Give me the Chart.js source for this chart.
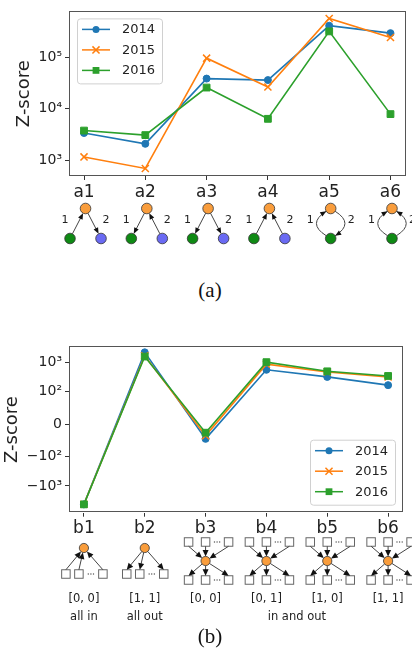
<!DOCTYPE html>
<html lang="en">
<head>
<meta charset="UTF-8">
<title>Z-score of motifs</title>
<script src="https://cdn.jsdelivr.net/npm/chart.js"></script>
<style>
  body { margin: 0; background: #fff; width: 412px; height: 652px; overflow: hidden; position: relative; font-family: "DejaVu Sans", sans-serif; }
  canvas { position: absolute; left: 0; }
  #chartA { top: 0; }
  #chartB { top: 335px; }
  .caption { position: absolute; left: 0; width: 420px; height: 24px; line-height: 24px; text-align: center; font-family: "Liberation Serif", serif; font-size: 21px; color: #111; }
</style>
</head>
<body>

<canvas id="chartA" width="412" height="255"></canvas>
<div class="caption" style="top:278px">(a)</div>
<canvas id="chartB" width="412" height="317"></canvas>
<div class="caption" style="top:624px">(b)</div>

<script>
  // ---- data ----
  const years = ['2014', '2015', '2016'];

  const motifsA = ['a1', 'a2', 'a3', 'a4', 'a5', 'a6'];
  const zA2014 = [3400, 2100, 38500, 36000, 407000, 292000];
  const zA2015 = [1170, 700, 95700, 26400, 561000, 241000];
  const zA2016 = [3790, 3100, 25800, 6400, 316000, 7900];
  const yTicksA = [1e3, 1e4, 1e5];
  const yLabelsA = ['10³', '10⁴', '10⁵'];

  const motifsB = ['b1', 'b2', 'b3', 'b4', 'b5', 'b6'];
  const zB2014 = [-4300, 2260, -45, 570, 325, 170];
  const zB2015 = [-4250, 1720, -35, 890, 480, 325];
  const zB2016 = [-4300, 1620, -26, 1040, 505, 350];
  const yTicksB = [-1000, -100, 0, 100, 1000];
  const yLabelsB = ['−10³', '−10²', '0', '10²', '10³'];
  const degreeB = ['[0, 0]', '[1, 1]', '[0, 0]', '[0, 1]', '[1, 0]', '[1, 1]'];

  // edge directions of the (a) motifs, 'in' = towards the orange node
  const edgesA = [['in', 'out'], ['out', 'in'], ['out', 'out'], ['in', 'in'], ['in', 'out'], ['in', 'in']];
  const kindB = ['in', 'out', 'both', 'both', 'both', 'both'];

  const colors = ['#1f77b4', '#ff7f0e', '#2ca02c'];
  const markers = ['circle', 'crossRot', 'rect'];
  const radii = [3.5, 5, 4.8];

  Chart.defaults.font.family = 'DejaVu Sans';
  Chart.defaults.color = '#222';

  // symmetric log scale like matplotlib's symlog (linthresh 100)
  const LINTHRESH = 100, LINSCALE = 1 / (1 - 0.1);
  function symlog(v) {
    const a = Math.abs(v);
    return a <= LINTHRESH ? v / LINTHRESH * LINSCALE : Math.sign(v) * (LINSCALE + Math.log10(a / LINTHRESH));
  }
  function symexp(t) {
    const a = Math.abs(t);
    return a <= LINSCALE ? t / LINSCALE * LINTHRESH : Math.sign(t) * LINTHRESH * Math.pow(10, a - LINSCALE);
  }
  class SymlogScale extends Chart.LinearScale {
    static id = 'symlog';
    getPixelForValue(value) {
      const lo = symlog(this.min), hi = symlog(this.max);
      return this.getPixelForDecimal((symlog(value) - lo) / (hi - lo));
    }
    getValueForPixel(pixel) {
      const lo = symlog(this.min), hi = symlog(this.max);
      return symexp(lo + this.getDecimalForPixel(pixel) * (hi - lo));
    }
  }
  Chart.register(SymlogScale);

  function makeSets(series) {
    return series.map((vals, k) => ({
      label: years[k],
      data: vals.map((v, i) => ({ x: i, y: v })),
      borderColor: colors[k],
      backgroundColor: colors[k],
      pointBackgroundColor: colors[k],
      pointBorderColor: colors[k],
      pointStyle: markers[k],
      pointRadius: radii[k],
      pointBorderWidth: k === 1 ? 1.5 : 1,
      borderWidth: 1.6,
      tension: 0,
      order: 3 - k
    }));
  }

  const tickGrid = { drawOnChartArea: false, drawTicks: true, tickLength: 4, color: '#333' };

  function xAxis(labels) {
    return {
      type: 'linear', bounds: 'data', min: -0.245, max: 5.245,
      afterBuildTicks: s => { s.ticks = labels.map((_, i) => ({ value: i })); },
      afterFit: s => { s.height = 24; },
      ticks: { callback: v => labels[v], font: { size: 17 }, padding: 2, maxRotation: 0, autoSkip: false },
      grid: tickGrid,
      border: { display: false }
    };
  }

  // ---- small helpers for the frame, legend and motif sketches ----
  function drawFrame(chart) {
    const a = chart.chartArea, ctx = chart.ctx;
    ctx.save();
    ctx.strokeStyle = '#555';
    ctx.lineWidth = 1;
    ctx.strokeRect(Math.round(a.left) + 0.5, Math.round(a.top) + 0.5, Math.round(a.right - a.left) - 1, Math.round(a.bottom - a.top) - 1);
    ctx.restore();
  }

  function marker(ctx, style, x, y, r, color) {
    ctx.fillStyle = color; ctx.strokeStyle = color;
    ctx.beginPath();
    if (style === 'circle') {
      ctx.arc(x, y, r, 0, Math.PI * 2); ctx.fill();
    } else if (style === 'rect') {
      const s = r * Math.SQRT1_2;
      ctx.fillRect(x - s, y - s, 2 * s, 2 * s);
    } else {
      const s = r * Math.SQRT1_2;
      ctx.lineWidth = 1.5;
      ctx.moveTo(x - s, y - s); ctx.lineTo(x + s, y + s);
      ctx.moveTo(x + s, y - s); ctx.lineTo(x - s, y + s);
      ctx.stroke();
    }
  }

  function drawLegend(chart, corner) {
    const ctx = chart.ctx, a = chart.chartArea;
    const w = 85, h = 65;
    const x = corner === 'tl' ? a.left + 8 : a.right - 8 - w;
    const y = corner === 'tl' ? a.top + 7 : a.bottom - 8 - h;
    ctx.save();
    ctx.beginPath();
    ctx.roundRect(x + 0.5, y + 0.5, w, h, 3);
    ctx.fillStyle = 'rgba(255,255,255,0.85)';
    ctx.fill();
    ctx.strokeStyle = '#d0d0d0';
    ctx.lineWidth = 1;
    ctx.stroke();
    chart.data.datasets.forEach((ds, k) => {
      const ry = y + 11 + k * 20.5;
      ctx.beginPath();
      ctx.moveTo(x + 5, ry); ctx.lineTo(x + 33, ry);
      ctx.strokeStyle = ds.borderColor; ctx.lineWidth = 1.5; ctx.stroke();
      marker(ctx, ds.pointStyle, x + 19, ry, ds.pointRadius, ds.borderColor);
      ctx.fillStyle = '#222';
      ctx.font = '13px "DejaVu Sans"';
      ctx.textBaseline = 'middle';
      ctx.textAlign = 'left';
      ctx.fillText(ds.label, x + 45, ry + 0.5);
    });
    ctx.restore();
  }

  const ORANGE = '#f99d3c', GREEN = '#0f8a14', BLUE = '#6a6af3';

  function node(ctx, x, y, r, fill) {
    ctx.beginPath();
    ctx.arc(x, y, r, 0, Math.PI * 2);
    ctx.fillStyle = fill; ctx.fill();
    ctx.lineWidth = 0.8; ctx.strokeStyle = '#333'; ctx.stroke();
  }
  function square(ctx, x, y, s) {
    ctx.fillStyle = '#fff';
    ctx.fillRect(x - s / 2, y - s / 2, s, s);
    ctx.strokeStyle = '#666'; ctx.lineWidth = 1;
    ctx.strokeRect(x - s / 2, y - s / 2, s, s);
  }
  function head(ctx, tx, ty, dx, dy, len, wid) {
    const d = Math.hypot(dx, dy), ux = dx / d, uy = dy / d;
    ctx.beginPath();
    ctx.moveTo(tx, ty);
    ctx.lineTo(tx - ux * len - uy * wid / 2, ty - uy * len + ux * wid / 2);
    ctx.lineTo(tx - ux * len + uy * wid / 2, ty - uy * len - ux * wid / 2);
    ctx.closePath();
    ctx.fillStyle = '#111'; ctx.fill();
  }
  function arrow(ctx, x1, y1, x2, y2, r1, r2, len, wid) {
    const d = Math.hypot(x2 - x1, y2 - y1), ux = (x2 - x1) / d, uy = (y2 - y1) / d;
    const sx = x1 + ux * r1, sy = y1 + uy * r1, ex = x2 - ux * r2, ey = y2 - uy * r2;
    ctx.beginPath();
    ctx.moveTo(sx, sy); ctx.lineTo(ex - ux * len * 0.6, ey - uy * len * 0.6);
    ctx.strokeStyle = '#444'; ctx.lineWidth = 1; ctx.stroke();
    head(ctx, ex, ey, ux, uy, len, wid);
  }
  function curve(ctx, x1, y1, x2, y2, cx, cy, r, len, wid) {
    const d1 = Math.hypot(cx - x1, cy - y1), d2 = Math.hypot(cx - x2, cy - y2);
    const sx = x1 + (cx - x1) / d1 * r, sy = y1 + (cy - y1) / d1 * r;
    const ex = x2 + (cx - x2) / d2 * r, ey = y2 + (cy - y2) / d2 * r;
    ctx.beginPath();
    ctx.moveTo(sx, sy); ctx.quadraticCurveTo(cx, cy, ex, ey);
    ctx.strokeStyle = '#444'; ctx.lineWidth = 1; ctx.stroke();
    head(ctx, ex, ey, ex - cx, ey - cy, len, wid);
  }

  function drawMotifsA(chart) {
    const ctx = chart.ctx, xs = chart.scales.x, base = chart.chartArea.bottom;
    ctx.save();
    motifsA.forEach((m, i) => {
      const ox = xs.getPixelForValue(i) + 1.5, oy = base + 32.5, by = base + 62.5, r = 5.3;
      const [e1, e2] = edgesA[i];
      if (i < 4) {
        const gx = ox - 15.5, bx = ox + 15.5;
        node(ctx, ox, oy, r, ORANGE);
        node(ctx, gx, by, r, GREEN);
        node(ctx, bx, by, r, BLUE);
        if (e1 === 'in') arrow(ctx, gx, by, ox, oy, r, r, 6, 5); else arrow(ctx, ox, oy, gx, by, r, r, 6, 5);
        if (e2 === 'in') arrow(ctx, bx, by, ox, oy, r, r, 6, 5); else arrow(ctx, ox, oy, bx, by, r, r, 6, 5);
      } else {
        const my = (oy + by) / 2;
        node(ctx, ox, oy, r, ORANGE);
        node(ctx, ox, by, r, GREEN);
        if (e1 === 'in') curve(ctx, ox, by, ox, oy, ox - 24, my, r, 6, 5); else curve(ctx, ox, oy, ox, by, ox - 24, my, r, 6, 5);
        if (e2 === 'in') curve(ctx, ox, by, ox, oy, ox + 24, my, r, 6, 5); else curve(ctx, ox, oy, ox, by, ox + 24, my, r, 6, 5);
      }
      ctx.fillStyle = '#222';
      ctx.font = '11px "DejaVu Sans"';
      ctx.textAlign = 'center'; ctx.textBaseline = 'middle';
      ctx.fillText('1', ox - 20.5, oy + 12);
      ctx.fillText('2', ox + 20.5, oy + 12);
    });
    ctx.restore();
  }

  function dots(ctx, x, y) {
    ctx.fillStyle = '#555';
    for (let k = -1; k <= 1; k++) {
      ctx.beginPath(); ctx.arc(x + k * 2.6, y, 0.7, 0, Math.PI * 2); ctx.fill();
    }
  }

  function drawMotifsB(chart) {
    const ctx = chart.ctx, xs = chart.scales.x, base = chart.chartArea.bottom;
    const S = 8.5, R = 4.6;
    ctx.save();
    motifsB.forEach((m, i) => {
      const cx = xs.getPixelForValue(i);
      if (kindB[i] !== 'both') {
        const oy = base + 35.3, sy = base + 61.3;
        const sxs = [cx - 18, cx - 5, cx + 19];
        sxs.forEach(sx => square(ctx, sx, sy, S));
        dots(ctx, (sxs[1] + sxs[2]) / 2, sy);
        node(ctx, cx, oy, R, ORANGE);
        sxs.forEach(sx => {
          if (kindB[i] === 'in') arrow(ctx, sx, sy - S / 2, cx, oy, 0, R, 6.5, 6);
          else arrow(ctx, cx, oy, sx, sy - S / 2, R, 0, 6.5, 6);
        });
      } else {
        const oy = base + 48.3, ty = base + 29.3, dy = base + 67.3;
        const sxs = [cx - 17, cx, cx + 23];
        sxs.forEach(sx => { square(ctx, sx, ty, S); square(ctx, sx, dy, S); });
        dots(ctx, (sxs[1] + sxs[2]) / 2, ty);
        dots(ctx, (sxs[1] + sxs[2]) / 2, dy);
        node(ctx, cx, oy, R, ORANGE);
        sxs.forEach(sx => {
          arrow(ctx, sx, ty + S / 2, cx, oy, 0, R, 6.5, 6);
          arrow(ctx, cx, oy, sx, dy - S / 2, R, 0, 6.5, 6);
        });
      }
      ctx.fillStyle = '#222';
      ctx.font = '11.5px "DejaVu Sans"';
      ctx.textAlign = 'center'; ctx.textBaseline = 'middle';
      ctx.fillText(degreeB[i], cx, base + 86.6);
    });
    ctx.fillText('all in', xs.getPixelForValue(0), base + 104);
    ctx.fillText('all out', xs.getPixelForValue(1), base + 104);
    ctx.fillText('in and out', (xs.getPixelForValue(3) + xs.getPixelForValue(4)) / 2, base + 104);
    ctx.restore();
  }

  // ---- chart (a): log scale ----
  new Chart(document.getElementById('chartA'), {
    type: 'line',
    data: { datasets: makeSets([zA2014, zA2015, zA2016]) },
    options: {
      responsive: false,
      animation: false,
      layout: { padding: { left: 0, right: 6, top: 7, bottom: 55 } },
      plugins: { legend: { display: false }, tooltip: { enabled: false } },
      scales: {
        x: xAxis(motifsA),
        y: {
          type: 'logarithmic', bounds: 'data', min: 500, max: 770000,
          afterBuildTicks: s => { s.ticks = yTicksA.map(v => ({ value: v })); },
          afterFit: s => { s.width = 69; },
          ticks: { callback: v => yLabelsA[yTicksA.indexOf(v)], font: { size: 14 }, padding: 3 },
          title: { display: true, text: 'Z-score', font: { size: 18 }, padding: { top: 14, bottom: 0 } },
          grid: tickGrid,
          border: { display: false }
        }
      }
    },
    plugins: [{
      id: 'decorA',
      afterDraw(chart) { drawFrame(chart); drawLegend(chart, 'tl'); drawMotifsA(chart); }
    }]
  });

  // ---- chart (b): symmetric log scale ----
  new Chart(document.getElementById('chartB'), {
    type: 'line',
    data: { datasets: makeSets([zB2014, zB2015, zB2016]) },
    options: {
      responsive: false,
      animation: false,
      layout: { padding: { left: 0, right: 9, top: 9, bottom: 115.3 } },
      plugins: { legend: { display: false }, tooltip: { enabled: false } },
      scales: {
        x: xAxis(motifsB),
        y: {
          type: 'symlog', bounds: 'data', min: -8300, max: 3610,
          afterBuildTicks: s => { s.ticks = yTicksB.map(v => ({ value: v })); },
          afterFit: s => { s.width = 69; },
          ticks: { callback: v => yLabelsB[yTicksB.indexOf(v)], font: { size: 14 }, padding: 3 },
          title: { display: true, text: 'Z-score', font: { size: 18 }, padding: { top: 1.2, bottom: 0 } },
          grid: tickGrid,
          border: { display: false }
        }
      }
    },
    plugins: [{
      id: 'decorB',
      afterDraw(chart) { drawFrame(chart); drawLegend(chart, 'br'); drawMotifsB(chart); }
    }]
  });
</script>

</body>
</html>
